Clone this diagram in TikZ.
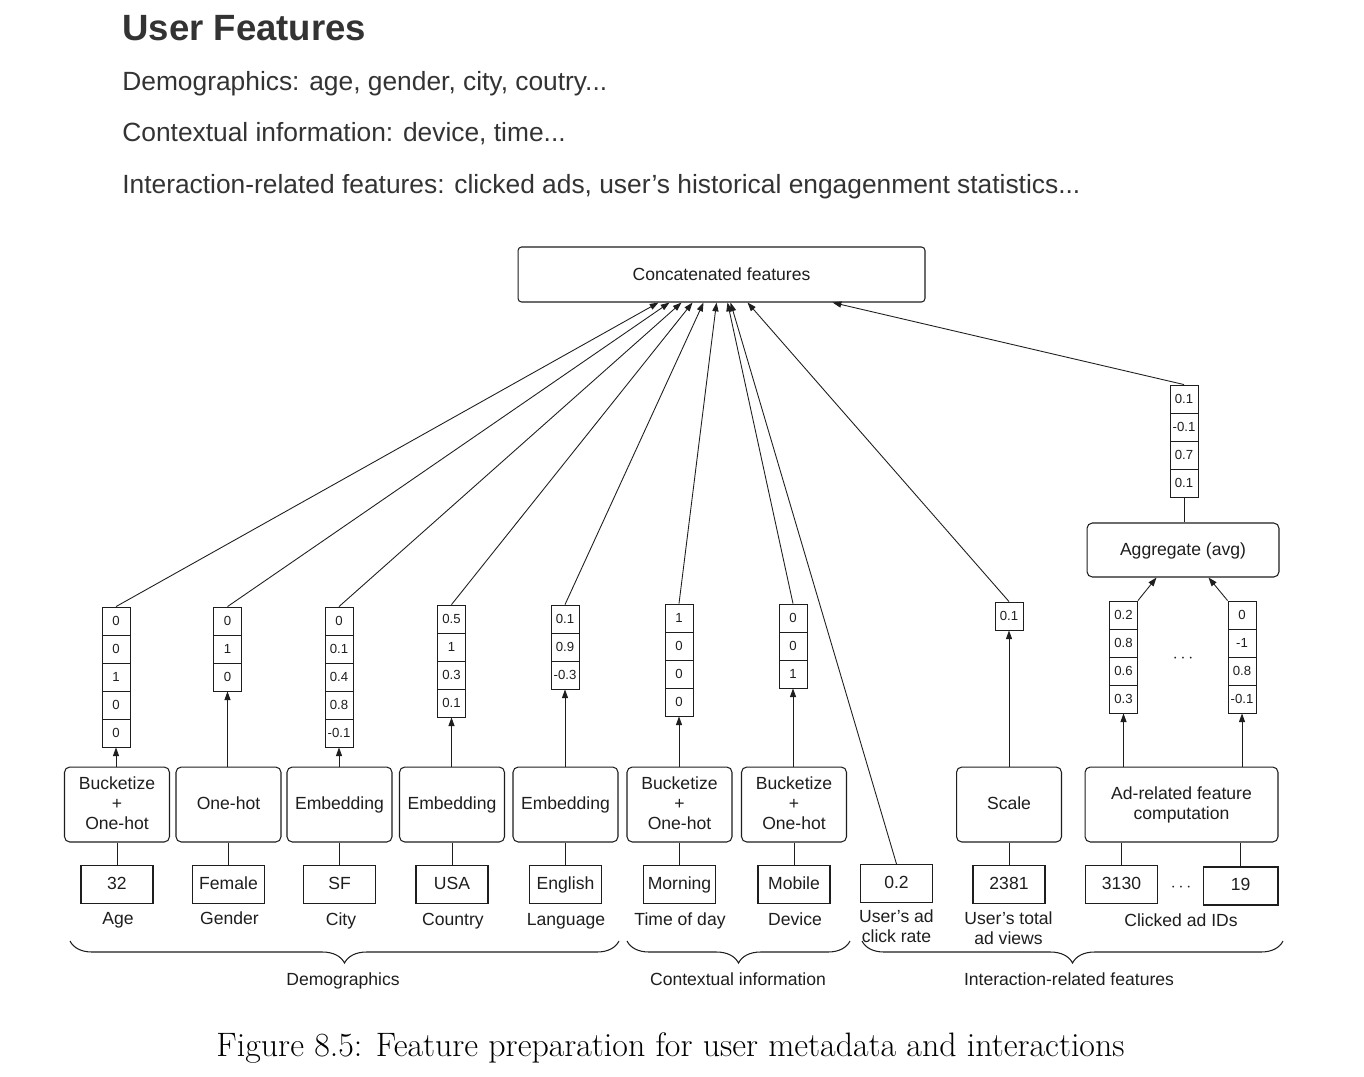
\documentclass[tikz,border=0pt]{standalone}
\usepackage{fontspec}
\setsansfont{Liberation Sans}
\usetikzlibrary{arrows.meta,calc,decorations.pathreplacing}

\definecolor{ink}{HTML}{1E1E1E}
\definecolor{headink}{HTML}{333333}

\tikzset{
  proc/.style={draw=ink, rounded corners=3pt, minimum width=2.1cm, minimum height=1.5cm,
    align=center, inner sep=1pt, text depth=0.3ex, font=\sffamily\fontsize{10}{11.5}\selectfont, line width=0.6pt},
  inbox/.style={draw=ink, minimum width=1.44cm, minimum height=0.76cm, inner sep=1pt,
    text height=1.7ex, text depth=0.4ex, font=\sffamily\fontsize{10}{12}\selectfont, line width=0.6pt},
  cell/.style={draw=ink, minimum width=0.56cm, minimum height=0.56cm, inner sep=0pt,
    font=\sffamily\fontsize{7.5}{8}\selectfont, line width=0.5pt},
  lbl/.style={align=center, font=\sffamily\fontsize{10}{11.4}\selectfont},
  lblb/.style={anchor=base, inner sep=0pt, font=\sffamily\fontsize{10}{11.4}\selectfont},
  hd/.style={anchor=base west, inner sep=0pt, text=headink, font=\sffamily\fontsize{15}{17}\selectfont},
  arr/.style={-{Triangle[length=5pt,width=3.5pt]}, line width=0.5pt},
  link/.style={line width=0.5pt},
  brc/.style={decorate, decoration={brace, mirror, amplitude=0.44cm}, line width=0.6pt},
}

% one feature vector: name, x, top y, values
\newcommand{\fvec}[4]{%
  \foreach \v [count=\i] in {#4} {
    \node[cell] (#1-\i) at (#2,{#3+14+28*(\i-1)}) {\v};
    \coordinate (#1-bot) at (#1-\i.south);
  }%
}

\begin{document}
\begin{tikzpicture}[x=0.02cm, y=-0.02cm, color=ink]
  \fill[white] (0,0) rectangle (1364,1076);
  \useasboundingbox (0,0) rectangle (1364,1076);

  % heading
  \node[anchor=base west, inner sep=0pt, text=headink,
    font=\sffamily\bfseries\fontsize{20.8}{24}\selectfont] (ttl) at (122,40) {User Features};
  \node[hd] (h1) at (122,90) {Demographics: age, gender, city, coutry...};
  \node[hd] (h2) at (122,141) {Contextual information: device, time...};
  \node[hd] (h3) at (122,193) {Interaction-related features: clicked ads, user’s historical engagenment statistics...};

  \node[draw, rounded corners=2pt, minimum width=8.14cm, minimum height=1.1cm, line width=0.6pt,
    font=\sffamily\fontsize{10}{12}\selectfont] (concat) at (721.5,274.5) {Concatenated features};

  % processing boxes
  \node[proc] (p-age)  at (117,804.5)   {Bucketize\\+\\One-hot};
  \node[proc] (p-gen)  at (228.5,804.5) {One-hot};
  \node[proc] (p-city) at (339.5,804.5) {Embedding};
  \node[proc] (p-ctry) at (452,804.5)   {Embedding};
  \node[proc] (p-lang) at (565.5,804.5) {Embedding};
  \node[proc] (p-tod)  at (679.5,804.5) {Bucketize\\+\\One-hot};
  \node[proc] (p-dev)  at (794,804.5)   {Bucketize\\+\\One-hot};
  \node[proc] (p-scl)  at (1009,804.5)  {Scale};
  \node[proc, minimum width=3.86cm] (p-ad) at (1181.5,804.5) {Ad-related feature\\computation};

  % raw inputs
  \node[inbox] (in-age)  at (117,884.5)   {32};
  \node[inbox] (in-gen)  at (228.5,884.5) {Female};
  \node[inbox] (in-city) at (339.5,884.5) {SF};
  \node[inbox] (in-ctry) at (452,884.5)   {USA};
  \node[inbox] (in-lang) at (565.5,884.5) {English};
  \node[inbox] (in-tod)  at (679.5,884.5) {Morning};
  \node[inbox] (in-dev)  at (794,884.5)   {Mobile};
  \node[inbox] (in-ctr)  at (896.5,883.5) {0.2};
  \node[inbox] (in-scl)  at (1009,884.5)  {2381};
  \node[inbox] (in-ad1)  at (1121.5,884.5) {3130};
  \node[inbox, minimum width=1.5cm] (in-ad2) at (1240.5,886) {19};
  \node[lbl] (dots1) at (1181,888) {$\cdots$};

  % labels
  \node[lblb] (l-age)  at (118,924)   {Age};
  \node[lblb] (l-gen)  at (229.5,924) {Gender};
  \node[lblb] (l-city) at (341,925)   {City};
  \node[lblb] (l-ctry) at (453,925)   {Country};
  \node[lblb] (l-lang) at (566,925)   {Language};
  \node[lblb] (l-tod)  at (680,925)   {Time of day};
  \node[lblb] (l-dev)  at (795,925)   {Device};
  \node[lbl] (l-ctr)  at (896.5,926) {User's ad\\click rate};
  \node[lbl] (l-scl)  at (1008.5,928) {User's total\\ad views};
  \node[lblb] (l-ad)   at (1181,926)  {Clicked ad IDs};

  % vectors
  \fvec{age}{116}{607}{0,0,1,0,0}
  \fvec{gen}{227.5}{607}{0,1,0}
  \fvec{city}{339}{607}{0,0.1,0.4,0.8,-0.1}
  \fvec{ctry}{451.5}{605}{0.5,1,0.3,0.1}
  \fvec{lang}{565}{605}{0.1,0.9,-0.3}
  \fvec{tod}{679}{604}{1,0,0,0}
  \fvec{dev}{793}{604}{0,0,1}
  \fvec{scl}{1009}{602}{0.1}
  \fvec{advl}{1123.5}{601}{0.2,0.8,0.6,0.3}
  \fvec{advr}{1242}{601}{0,-1,0.8,-0.1}
  \node[lbl] (dots2) at (1183,659) {$\cdots$};

  \node[proc, minimum width=3.84cm, minimum height=1.08cm] (agg) at (1183,550) {Aggregate (avg)};
  \fvec{agv}{1184}{385}{0.1,-0.1,0.7,0.1}

  % connectors
  \foreach \a in {age,gen,city,ctry,lang,tod,dev,scl}
    \draw[link] (in-\a.north) -- (p-\a.south);
  \draw[link] (in-ad1.north) -- (p-ad.south -| in-ad1);
  \draw[link] (in-ad2.north) -- (p-ad.south -| in-ad2);

  \foreach \a in {age,gen,city,ctry,lang,tod,dev,scl}
    \draw[arr] (p-\a.north -| \a-bot) -- (\a-bot);
  \draw[arr] (p-ad.north -| advl-bot) -- (advl-bot);
  \draw[arr] (p-ad.north -| advr-bot) -- (advr-bot);

  \draw[arr] (advl-1.north east) -- ($(agg.south west)+(70,0)$);
  \draw[arr] (advr-1.north west) -- ($(agg.south west)+(122,0)$);
  \draw[link] (agg.north -| agv-bot) -- (agv-bot);

  \foreach \a/\dx in {age/141, gen/152, city/164, ctry/175, lang/186, tod/199, dev/210, scl/230}
    \draw[arr] (\a-1.north) -- ($(concat.south west)+(\dx,0)$);
  \draw[arr] (in-ctr.north) -- ($(concat.south west)+(213,0)$);
  \draw[arr] (agv-1.north) -- ($(concat.south west)+(315,0)$);

  % groups
  \draw[brc] (70,941) -- (619,941);
  \draw[brc] (627,941) -- (850,941);
  \draw[brc] (862,941) -- (1283,941);
  \node[lblb] (g-demo) at (343,985)  {Demographics};
  \node[lblb] (g-ctx)  at (738,985)  {Contextual information};
  \node[lblb] (g-int)  at (1069,985) {Interaction-related features};

  \node[anchor=base, inner sep=0pt, text=black, font=\fontsize{19.3}{22}\selectfont] (cap)
    at (670.5,1056) {Figure 8.5: Feature preparation for user metadata and interactions};
\end{tikzpicture}
\end{document}
